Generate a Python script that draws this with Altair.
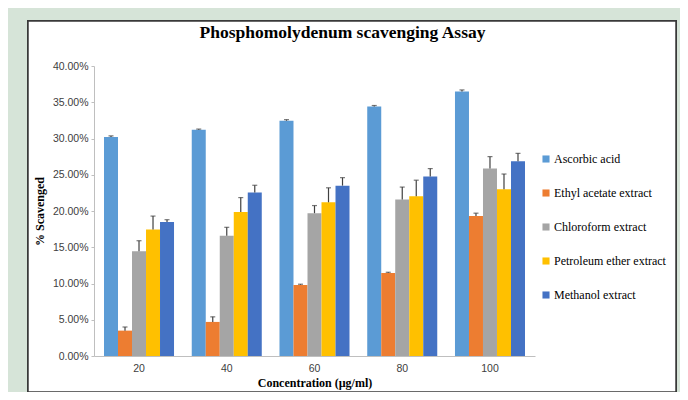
import altair as alt
import pandas as pd

concentrations = ["20", "40", "60", "80", "100"]
series = ["Ascorbic acid", "Ethyl acetate extract", "Chloroform extract",
          "Petroleum ether extract", "Methanol extract"]
colors = ["#5B9BD5", "#ED7D31", "#A5A5A5", "#FFC000", "#4472C4"]
y_ticks = [0.0, 0.05, 0.10, 0.15, 0.20, 0.25, 0.30, 0.35, 0.40]

ascorbic = [30.2, 31.2, 32.45, 34.4, 36.5]
ascorbic_err = [0.15, 0.1, 0.15, 0.15, 0.2]
ethyl = [3.5, 4.7, 9.8, 11.45, 19.3]
ethyl_err = [0.5, 0.7, 0.1, 0.1, 0.4]
chloroform = [14.45, 16.6, 19.7, 21.6, 25.85]
chloroform_err = [1.45, 1.15, 1.05, 1.7, 1.65]
petroleum = [17.45, 19.85, 21.2, 22.05, 23.0]
petroleum_err = [1.85, 2.0, 2.0, 2.2, 2.1]
methanol = [18.5, 22.55, 23.5, 24.75, 26.85]
methanol_err = [0.3, 1.0, 1.1, 1.1, 1.1]

values = [ascorbic, ethyl, chloroform, petroleum, methanol]
errors = [ascorbic_err, ethyl_err, chloroform_err, petroleum_err, methanol_err]

rows = []
for s, vals, errs in zip(series, values, errors):
    for c, v, e in zip(concentrations, vals, errs):
        rows.append({"conc": c, "series": s, "value": v / 100, "top": (v + e) / 100})
df = pd.DataFrame(rows)

serif = "Liberation Serif"
sans = "Liberation Sans"

x_axis = alt.Axis(title="Concentration (µg/ml)", labelAngle=0,
                  labelFont=sans, labelFontSize=10.5, labelColor="#404040",
                  titleFont=serif, titleFontSize=12, titleFontWeight="bold",
                  titleColor="#000000", titlePadding=4,
                  domainColor="#bfbfbf", domainWidth=1, ticks=False,
                  labelPadding=7, zindex=1)
x_scale = alt.Scale(paddingInner=0.202, paddingOuter=0.114)
y_axis = alt.Axis(title="% Scavenged", format=".2%",
                  values=y_ticks, labelOverlap=False,
                  labelFont=sans, labelFontSize=10.5, labelColor="#404040",
                  titleFont=serif, titleFontSize=12, titleFontWeight="bold",
                  titleColor="#000000", titlePadding=6,
                  domainColor="#bfbfbf", tickColor="#bfbfbf", tickSize=3,
                  labelPadding=3, grid=False, zindex=1)
y_scale = alt.Scale(domain=[0, 0.4], nice=False)

x_enc = alt.X("conc:N", sort=concentrations, scale=x_scale, axis=x_axis)
xo_enc = alt.XOffset("series:N", sort=series,
                     scale=alt.Scale(paddingInner=0, paddingOuter=0))
color_enc = alt.Color("series:N", sort=series,
                      scale=alt.Scale(domain=series, range=colors),
                      legend=alt.Legend(title=None, orient="none", legendX=446, legendY=87,
                                        symbolType="square", symbolSize=50,
                                        symbolStrokeWidth=0, labelFont=serif,
                                        labelFontSize=12, labelColor="#000000",
                                        rowPadding=22, labelOffset=2))

panel = alt.Chart(df).mark_rect(fill="white", stroke="#3a3a3a", strokeWidth=1.5).encode(
    x=alt.value(-66), x2=alt.value(582), y=alt.value(-45), y2=alt.value(326))

bars = alt.Chart(df).mark_bar().encode(
    x=x_enc, xOffset=xo_enc,
    y=alt.Y("value:Q", scale=y_scale, axis=y_axis), color=color_enc)

err_rule = alt.Chart(df).mark_rule(color="#404040", strokeWidth=1.2).encode(
    x=x_enc, xOffset=xo_enc,
    y=alt.Y("value:Q", scale=y_scale, axis=y_axis), y2="top:Q")
err_cap = alt.Chart(df).mark_tick(color="#404040", thickness=1.2, size=5).encode(
    x=x_enc, xOffset=xo_enc, y=alt.Y("top:Q", scale=y_scale, axis=y_axis))

chart = alt.layer(panel, bars, err_rule, err_cap).properties(
    width=441, height=290,
    padding={"left": 86, "top": 58, "right": 145, "bottom": 36},
    autosize="none",
    background="#d6e4d8",
    title=alt.TitleParams("Phosphomolydenum scavenging Assay", font=serif, fontSize=17.5,
                          fontWeight="bold", color="#000000", anchor="middle",
                          frame="group", dx=28, offset=0, dy=21),
).configure_view(stroke=None)

chart.save("out.html", embed_options={"renderer": "svg", "actions": False})
